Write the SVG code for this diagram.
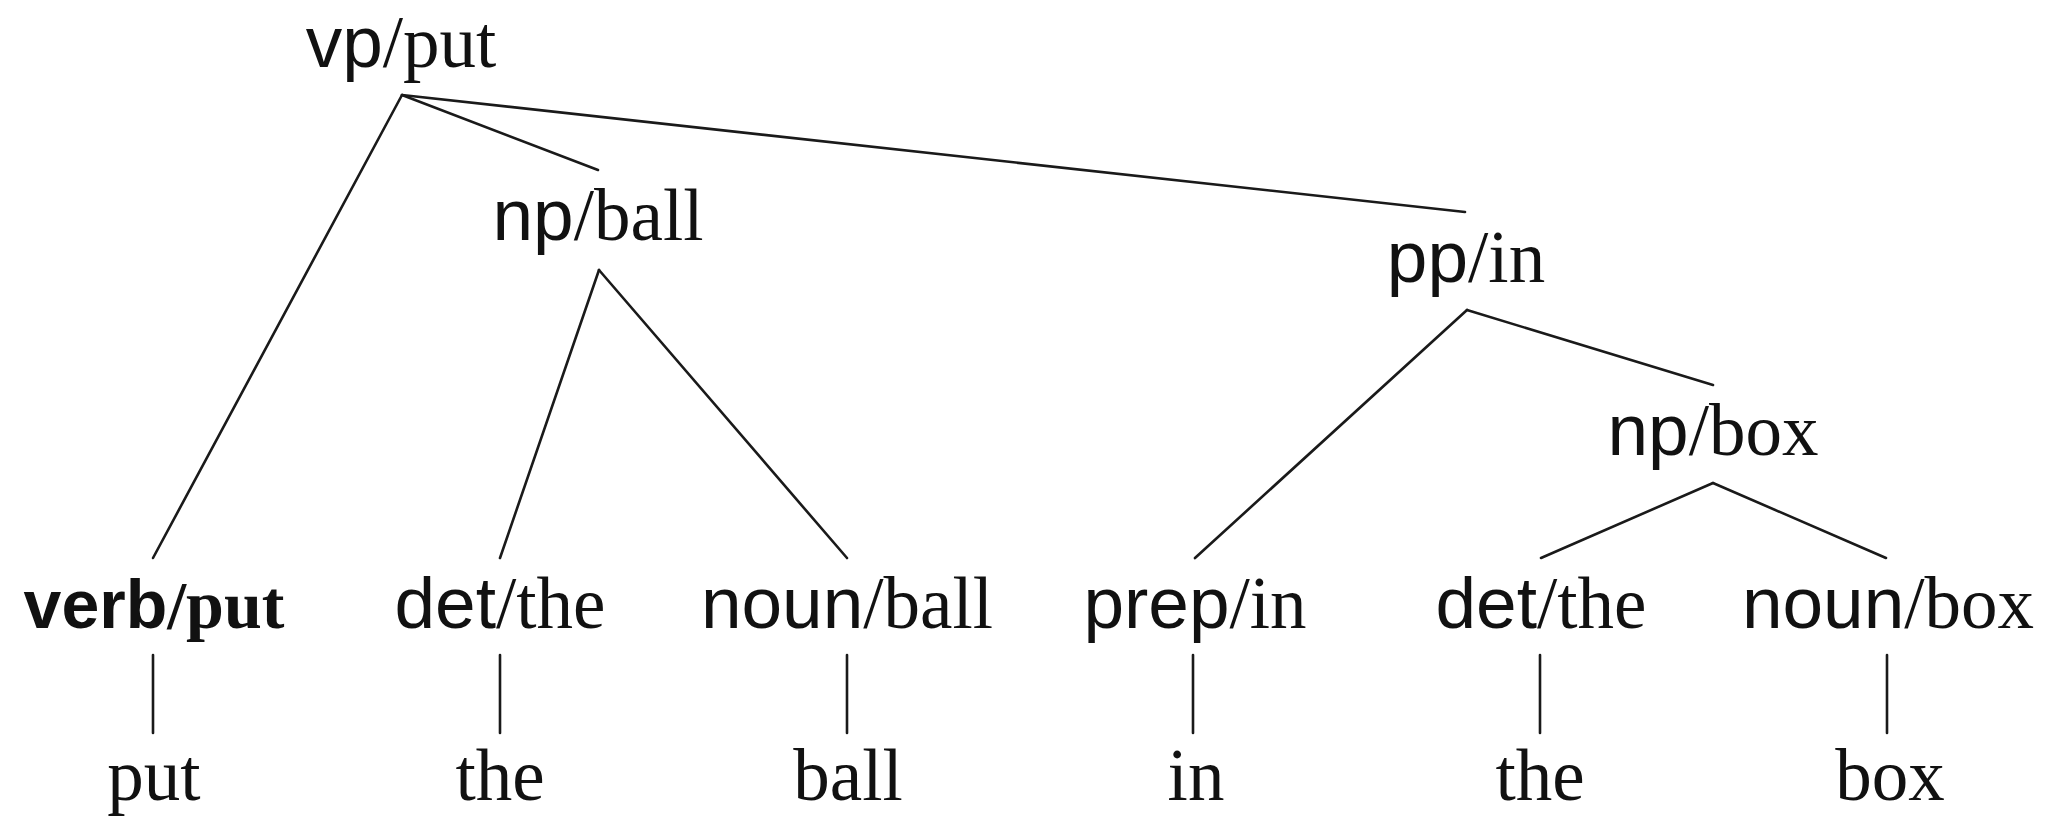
<svg xmlns="http://www.w3.org/2000/svg" width="2047" height="817" viewBox="0 0 2047 817">
  <style>
    .lbl { font-size: 73px; fill: #111; text-anchor: middle; }
    .cat { font-family: "Liberation Sans", Arial, sans-serif; }
    .head { font-family: "Liberation Serif", "Times New Roman", serif; }
    .bold { font-weight: bold; font-size: 68px; }
    .edge { stroke: #1a1a1a; stroke-width: 2.6; fill: none; stroke-linecap: round; }
  </style>
  <rect width="2047" height="817" fill="#fff"/>

  <!-- tree edges -->
  <g id="edges">
    <line class="edge" x1="402" y1="95" x2="153" y2="558"/>
    <line class="edge" x1="402" y1="95" x2="598" y2="170"/>
    <line class="edge" x1="402" y1="95" x2="1465" y2="212"/>
    <line class="edge" x1="599" y1="270" x2="500" y2="558"/>
    <line class="edge" x1="599" y1="270" x2="847" y2="558"/>
    <line class="edge" x1="1467" y1="310" x2="1195" y2="558"/>
    <line class="edge" x1="1467" y1="310" x2="1713" y2="385"/>
    <line class="edge" x1="1713" y1="483" x2="1541" y2="558"/>
    <line class="edge" x1="1713" y1="483" x2="1886" y2="558"/>
    <line class="edge" x1="153" y1="655" x2="153" y2="733"/>
    <line class="edge" x1="500" y1="655" x2="500" y2="733"/>
    <line class="edge" x1="847" y1="655" x2="847" y2="733"/>
    <line class="edge" x1="1193" y1="655" x2="1193" y2="733"/>
    <line class="edge" x1="1540" y1="655" x2="1540" y2="733"/>
    <line class="edge" x1="1887" y1="655" x2="1887" y2="733"/>
  </g>

  <!-- phrase nodes -->
  <g id="vp-put"><text class="lbl" x="401" y="67"><tspan class="cat">vp</tspan><tspan class="head">/put</tspan></text></g>
  <g id="np-ball"><text class="lbl" x="598" y="240"><tspan class="cat">np</tspan><tspan class="head">/ball</tspan></text></g>
  <g id="pp-in"><text class="lbl" x="1466" y="282"><tspan class="cat">pp</tspan><tspan class="head">/in</tspan></text></g>
  <g id="np-box"><text class="lbl" x="1713" y="455"><tspan class="cat">np</tspan><tspan class="head">/box</tspan></text></g>

  <!-- preterminal nodes -->
  <g id="verb-put"><text class="lbl bold" x="154" y="628"><tspan class="cat">verb</tspan><tspan class="head">/put</tspan></text></g>
  <g id="det-the-1"><text class="lbl" x="500" y="628"><tspan class="cat">det</tspan><tspan class="head">/the</tspan></text></g>
  <g id="noun-ball"><text class="lbl" x="847" y="628"><tspan class="cat">noun</tspan><tspan class="head">/ball</tspan></text></g>
  <g id="prep-in"><text class="lbl" x="1195" y="628"><tspan class="cat">prep</tspan><tspan class="head">/in</tspan></text></g>
  <g id="det-the-2"><text class="lbl" x="1541" y="628"><tspan class="cat">det</tspan><tspan class="head">/the</tspan></text></g>
  <g id="noun-box"><text class="lbl" x="1888" y="628"><tspan class="cat">noun</tspan><tspan class="head">/box</tspan></text></g>

  <!-- words -->
  <g id="w-put"><text class="lbl head" x="154" y="800">put</text></g>
  <g id="w-the-1"><text class="lbl head" x="500" y="800">the</text></g>
  <g id="w-ball"><text class="lbl head" x="848" y="800">ball</text></g>
  <g id="w-in"><text class="lbl head" x="1196" y="800">in</text></g>
  <g id="w-the-2"><text class="lbl head" x="1540" y="800">the</text></g>
  <g id="w-box"><text class="lbl head" x="1890" y="800">box</text></g>
</svg>
